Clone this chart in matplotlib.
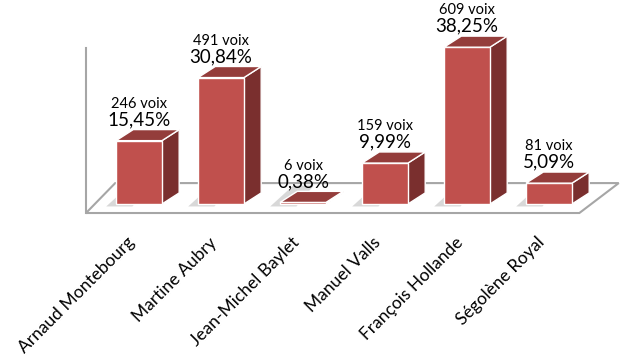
import matplotlib.pyplot as plt
from matplotlib.patches import Polygon

# Données : primaire socialiste (voix et pourcentages)
candidats = ["Arnaud Montebourg", "Martine Aubry", "Jean-Michel Baylet",
             "Manuel Valls", "François Hollande", "Ségolène Royal"]
voix = [246, 491, 6, 159, 609, 81]
pourcentages = [15.45, 30.84, 0.38, 9.99, 38.25, 5.09]

# Couleurs façon Excel 3D
c_face = "#c0504d"
c_cote = "#7a2f2e"
c_dessus = "#943d3b"

plt.rcParams['font.family'] = ['Lato', 'DejaVu Sans']

fig = plt.figure(figsize=(6.23, 3.61), dpi=100)
ax = fig.add_axes([0, 0, 1, 1])
ax.set_xlim(-1.695, 5.902)
ax.set_ylim(-38.3, 49.76)
ax.axis('off')

largeur = 0.56
dx, dy = 0.21, 2.7   # profondeur des barres
x = list(range(len(candidats)))

# Sol
sol = Polygon([(-0.646, -2.2), (5.37, -2.2), (5.85, 5.1), (-0.29, 5.1)],
              closed=True, facecolor="white", edgecolor="#a6a6a6", lw=1.5, zorder=1)
ax.add_patch(sol)
ax.plot([-0.646, -0.646], [-2.2, 38], color="#a6a6a6", lw=1.5, zorder=1)

# Ombres sur le sol
for xi, p in zip(x, pourcentages):
    g = xi - largeur / 2
    ombre = Polygon([(g - 0.12, -0.6), (g + 0.2, -0.6), (g + dx + 0.2, dy + 1.8),
                     (g + dx - 0.05, dy + 1.8)],
                    closed=True, facecolor="#bfbfbf", edgecolor="none", alpha=0.6, zorder=2)
    ax.add_patch(ombre)

# Barres : face avant
ax.bar(x, pourcentages, width=largeur, color=c_face, edgecolor="white", lw=1, zorder=4)

for xi, p, v in zip(x, pourcentages, voix):
    g, d = xi - largeur / 2, xi + largeur / 2
    cote = Polygon([(d, 0), (d + dx, dy), (d + dx, p + dy), (d, p)],
                   closed=True, facecolor=c_cote, edgecolor="white", lw=1, zorder=3)
    dessus = Polygon([(g, p), (d, p), (d + dx, p + dy), (g + dx, p + dy)],
                     closed=True, facecolor=c_dessus, edgecolor="white", lw=1, zorder=5)
    ax.add_patch(cote)
    ax.add_patch(dessus)
    texte = f"{p:.2f}%".replace(".", ",")
    ax.annotate(texte, (xi, p + dy), xytext=(0, 1), textcoords="offset points",
                ha="center", va="bottom", fontsize=13.5, zorder=6)
    ax.annotate(f"{v} voix", (xi, p + dy), xytext=(0, 13.5), textcoords="offset points",
                ha="center", va="bottom", fontsize=10.5, zorder=6)

# Étiquettes des catégories
for xi, nom in zip(x, candidats):
    ax.text(xi - 0.08, -8.8, nom, rotation=45, ha="right", va="center",
            rotation_mode="anchor", fontsize=12.5)

plt.savefig("out.png", dpi=100)
